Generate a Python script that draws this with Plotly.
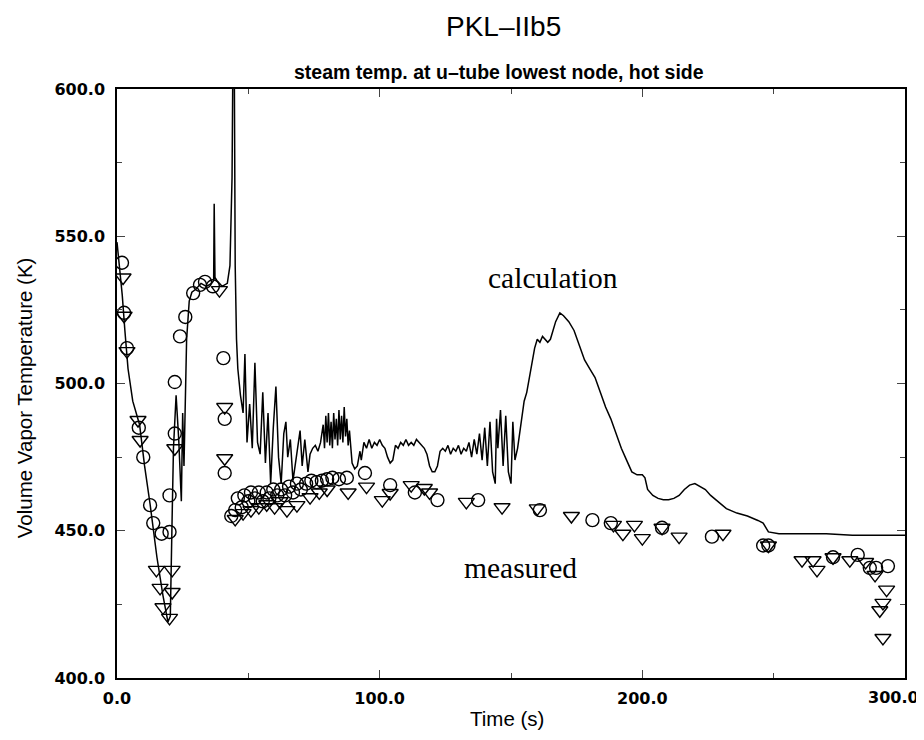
import plotly.graph_objects as go

# calculation curve (time s, temperature K)
calc_t = [0, 1, 2, 3, 4.2, 6, 8.6, 10.5, 12.6, 15.2, 17.5, 19.4, 20.3, 21, 21.5, 22.5, 23.5, 24.5, 25, 25.5, 26.5, 27.5, 28.5,
          30, 32, 34, 36, 36.8, 37, 37.3, 38, 40, 42, 43, 43.8, 44.2, 44.6, 45, 45.5, 46, 47, 48, 48.7, 49.5, 50.5,
          51.5, 52.5, 53.5, 54.5, 55.5, 56.5, 57.5, 58.5, 59.5, 60.5, 61.5, 62.5, 63.5, 64.3, 65, 66, 67, 68, 69,
          69.7, 70.5, 71.5, 72.7, 73.5, 74.5, 75.5, 76.5, 77.5, 78.5, 79, 79.5, 80, 80.5, 81, 81.5, 82, 82.5, 83,
          83.5, 84, 84.5, 85, 85.5, 86, 86.5, 87, 87.5, 88, 88.5, 89.5, 90.5, 91.5, 92.5, 93, 94, 95, 96, 97, 98,
          99, 100, 101, 102, 103, 104, 105, 106, 107, 108, 109, 110, 111, 112, 113, 114, 115, 116, 117, 118, 119,
          120, 121, 122, 123, 124, 125, 126, 127, 128, 129, 130, 131, 132, 133, 134, 135, 136, 137, 138, 139, 140,
          141, 142, 143, 144, 144.5, 145, 146, 147, 148, 149, 150, 150.7, 151.5, 152.5, 154, 155, 156, 157, 158,
          159, 160, 161, 162, 163, 164, 165, 166, 167, 168.6, 170, 172, 174, 176, 178, 180, 182, 184, 186, 188,
          190, 192, 194, 196, 198, 200, 201, 202, 204, 206, 208, 210, 212, 214, 216, 218, 220, 222, 224, 226, 228,
          230, 232, 236, 240, 244, 246, 248, 252, 260, 270, 280, 290, 300]
calc_T = [548, 540, 530, 518, 505, 494, 486, 472, 459, 441, 428, 419, 421, 455, 478, 496, 481, 460, 490, 472, 515, 528, 531,
          532, 534, 533, 534, 535, 561, 536, 535, 533, 534, 540, 570, 620, 620, 540, 515, 505, 496, 490, 510, 480, 493,
          478, 507, 480, 476, 497, 473, 490, 466, 485, 499, 475, 466, 483, 487, 475, 481, 467, 474, 480,
          484, 472, 481, 470, 476, 478, 479, 477, 480, 486, 478, 489, 480, 490, 479, 487, 478, 490, 481,
          488, 479, 491, 481, 489, 480, 492, 482, 488, 479, 484, 473, 471, 472, 477, 474, 480, 478, 481, 478, 480,
          479, 481, 479, 478, 475, 473, 474, 479, 478, 480, 479, 481, 479, 480, 479, 481, 480, 479, 478, 476, 472,
          470, 470, 472, 477, 478, 477, 479, 476, 478, 477, 479, 476, 478, 477, 480, 475, 481, 476, 483, 474, 485,
          472, 487, 470, 466, 488, 478, 491, 472, 489, 470, 466, 487, 474, 478, 487, 494, 497, 502, 506,
          512, 515, 514, 516, 515, 514, 515, 518, 521, 524, 523, 521, 518, 513, 508, 505, 502, 497, 492, 488,
          483, 478, 474, 470, 469, 469, 468, 464, 462, 461, 460.5, 460.5, 461, 462, 464, 465.5, 466, 465, 464, 462, 460.5,
          459, 457.5, 456, 455, 453.5, 452.6, 449.6, 449, 449, 449, 448.5, 448.5, 448.5]

# measured data, circles
circ_t = [1.9, 2.7, 3.8, 8.3, 10, 12.6, 13.8, 17, 20, 20, 22, 22, 24, 26, 29, 31.6, 33.5, 36.5, 40.5, 41, 41,
          43.5, 45, 46, 47.5, 48.5, 50, 51, 52.5, 54, 55.5, 57, 58, 59.5, 61, 62.5, 64, 65.5, 67, 68.5, 70, 72,
          74, 76, 78, 80, 82, 84.5, 87.5, 94.4, 104, 113.4, 122, 137.5, 161, 181, 188, 207.5, 226.5, 246, 248,
          272.6, 282, 286.6, 289, 293.5]
circ_T = [541, 524, 512, 485, 475, 458.7, 452.6, 449, 449.6, 462, 483, 500.5, 516, 522.6, 530.7, 533.5, 534.5, 533, 508.6, 488, 469.6,
          455, 457, 461, 458, 462, 460, 463, 461, 463, 460, 463, 461, 464, 462, 464, 462, 465, 463, 466, 464, 466,
          467, 466.5, 467, 467.5, 468, 467.5, 468, 469.6, 465.5, 463, 460.4, 460.4, 457, 453.6, 452.6, 451, 448, 445, 445,
          441, 441.8, 437.4, 437.4, 438]

# measured data, triangles
tri_t = [2.3, 2.7, 3.8, 8, 8.8, 22, 15, 21, 16.4, 21, 17.5, 20, 39, 41, 41,
         45, 48, 51, 54, 57, 60, 62, 64.7, 68.5, 73.5, 77, 80, 88,
         95, 101, 104, 112, 117, 119, 133, 146.6, 160, 173, 189, 192.6, 197, 200, 207.5, 214, 230.7, 248,
         260.8, 265, 266.5, 272.6, 279, 285, 288.6, 293, 291.6, 290.4, 291.6]
tri_T = [536, 523, 511, 487.6, 480.8, 478, 436.7, 436.7, 430.6, 429.2, 424, 420.4, 531.7, 492, 474.6,
         454, 456, 457, 458, 459, 458, 460, 457, 458.7, 461.4, 463, 464, 463,
         465, 460.4, 462.8, 465.5, 464.5, 463, 459.8, 458, 457.6, 455, 452, 449, 452, 447.5, 451, 448, 449, 445,
         440, 440, 436.7, 441, 440, 439.4, 435, 430, 425.5, 423, 413.6]

# x tick labels; the last one sits against the page edge, so it is drawn as a separate text
x_tick_vals = [0, 100, 200, 300]
x_tick_text = ["0.0", "100.0", "200.0", "300.0"]

fig = go.Figure()
fig.add_trace(go.Scatter(x=calc_t, y=calc_T, mode="lines",
                         line=dict(color="black", width=1.5), showlegend=False))
fig.add_trace(go.Scatter(x=circ_t, y=circ_T, mode="markers",
                         marker=dict(symbol="circle-open", size=13, color="black", line=dict(width=1.4)),
                         showlegend=False))
fig.add_trace(go.Scatter(x=tri_t, y=tri_T, mode="markers",
                         marker=dict(symbol="triangle-down-open", size=14, color="black", line=dict(width=1.4)),
                         showlegend=False))

tick_font = dict(family="DejaVu Sans", size=16, color="black", weight="bold")
label_font = dict(family="Liberation Sans, Arial", size=20.5, color="black")
serif_font = dict(family="Liberation Serif, Times New Roman", size=29.5, color="black")

# the page body has an 8px margin, so the figure is 8px smaller and margins are shifted
fig.update_layout(
    width=916, height=732,
    margin=dict(l=109, r=19, t=81, b=62),
    paper_bgcolor="white", plot_bgcolor="white",
    annotations=[
        dict(text="PKL\u2013IIb5", xref="paper", yref="paper",
             x=0.491, y=1.106, xanchor="center", yanchor="middle", showarrow=False,
             font=dict(family="Liberation Sans, Arial", size=28, color="black")),
        dict(text="steam temp. at u\u2013tube lowest node, hot side", xref="paper", yref="paper",
             x=0.485, y=1.029, xanchor="center", yanchor="middle", showarrow=False,
             font=dict(family="Liberation Sans, Arial", size=19.5, color="black", weight="bold")),
        dict(text="Volume Vapor Temperature (K)", xref="paper", yref="paper", textangle=-90,
             x=-0.118, y=0.475, xanchor="center", yanchor="middle", showarrow=False, font=label_font),
        dict(text="Time (s)", xref="paper", yref="paper",
             x=0.495, y=-0.0696, xanchor="center", yanchor="middle", showarrow=False, font=label_font),
        dict(text=x_tick_text[-1], xref="paper", yref="paper",
             x=1.02, y=-0.0323, xanchor="right", yanchor="middle", showarrow=False, font=tick_font),
        dict(text="calculation", x=166, y=535.8, showarrow=False, font=serif_font),
        dict(text="measured", x=153.8, y=437.3, showarrow=False, font=serif_font),
    ],
    xaxis=dict(range=[0, 300], tickvals=x_tick_vals, ticktext=x_tick_text[:-1] + [""],
               ticks="inside", ticklen=8,
               minor=dict(dtick=50, ticks="inside", ticklen=5),
               showline=True, linecolor="black", linewidth=1.5, mirror="allticks",
               showgrid=False, zeroline=False, automargin=False,
               ticklabelstandoff=5, tickfont=tick_font),
    yaxis=dict(range=[400, 600], dtick=50, tickformat=".1f", ticks="inside", ticklen=8,
               minor=dict(dtick=25, ticks="inside", ticklen=5),
               showline=True, linecolor="black", linewidth=1.5, mirror="allticks",
               showgrid=False, zeroline=False, automargin=False,
               ticklabelstandoff=7, tickfont=tick_font),
)

fig.write_html("out.html")
